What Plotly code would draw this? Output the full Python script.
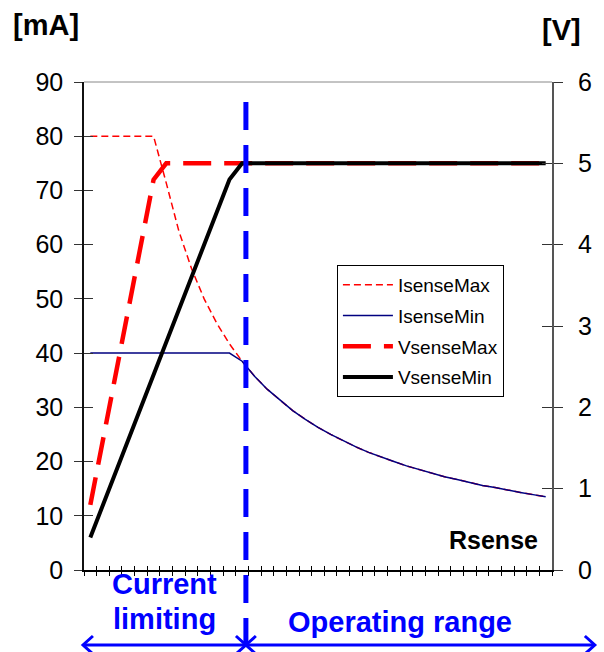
import plotly.graph_objects as go

# ---------------- data ----------------
rsense_ohm = [10, 20, 30, 40, 50, 60, 70, 80, 90, 100, 110, 120, 130, 140, 150, 160, 170, 180, 190,
              200, 210, 220, 230, 240, 250, 260, 270, 280, 290, 300, 310, 320, 330, 340, 350, 360, 370]
isense_max = [80, 80, 80, 80, 80, 80, 71.4, 62.5, 55.6, 50.0, 45.5, 41.7, 38.5, 35.7, 33.3, 31.3, 29.4,
              27.8, 26.3, 25.0, 23.8, 22.7, 21.7, 20.8, 20.0, 19.2, 18.5, 17.9, 17.2, 16.7, 16.1, 15.6,
              15.2, 14.7, 14.3, 13.9, 13.5]
isense_min = [40, 40, 40, 40, 40, 40, 40, 40, 40, 40, 40, 40, 38.5, 35.7, 33.3, 31.3, 29.4,
              27.8, 26.3, 25.0, 23.8, 22.7, 21.7, 20.8, 20.0, 19.2, 18.5, 17.9, 17.2, 16.7, 16.1, 15.6,
              15.2, 14.7, 14.3, 13.9, 13.5]
vsense_max = [0.8, 1.6, 2.4, 3.2, 4.0, 4.8, 5, 5, 5, 5, 5, 5, 5, 5, 5, 5, 5, 5, 5, 5, 5, 5, 5, 5, 5,
              5, 5, 5, 5, 5, 5, 5, 5, 5, 5, 5, 5]
vsense_min = [0.4, 0.8, 1.2, 1.6, 2.0, 2.4, 2.8, 3.2, 3.6, 4.0, 4.4, 4.8, 5, 5, 5, 5, 5, 5, 5, 5, 5,
              5, 5, 5, 5, 5, 5, 5, 5, 5, 5, 5, 5, 5, 5, 5, 5]
series_names = ["IsenseMax", "IsenseMin", "VsenseMax", "VsenseMin"]
left_ticks = [0, 10, 20, 30, 40, 50, 60, 70, 80, 90]
right_ticks = [0, 1, 2, 3, 4, 5, 6]
boundary_ohm = 133  # position of the dashed separator

# ---------------- layout geometry ----------------
W, H = 604, 652
L, R, T, B = 84, 50, 82, 82
PW, PH = W - L - R, H - T - B
x_lo, x_hi = rsense_ohm[0] - 5, rsense_ohm[-1] + 5


def px_x(p):
    return (p - L) / PW


def px_y(p):
    return (H - B - p) / PH


def data_to_px_x(v):
    return L + (v - x_lo) / (x_hi - x_lo) * PW


FONT = "Arial, Liberation Sans, sans-serif"
BLUE = "#0000FF"

fig = go.Figure()
fig.add_trace(go.Scatter(x=rsense_ohm, y=isense_max, name=series_names[0], mode="lines",
                         line=dict(color="#FF0000", width=1.5, dash="7px,4px"),
                         legendgroup="a", yaxis="y"))
fig.add_trace(go.Scatter(x=rsense_ohm, y=isense_min, name=series_names[1], mode="lines",
                         line=dict(color="#000080", width=1.5),
                         legendgroup="b", yaxis="y"))
fig.add_trace(go.Scatter(x=rsense_ohm, y=vsense_max, name=series_names[2], mode="lines",
                         line=dict(color="#FF0000", width=4.5, dash="28px,13px"),
                         legendgroup="c", yaxis="y2"))
fig.add_trace(go.Scatter(x=rsense_ohm, y=vsense_min, name=series_names[3], mode="lines",
                         line=dict(color="#000000", width=4),
                         legendgroup="d", yaxis="y2"))
# invisible helpers so the overlay (inner-tick) axes render
fig.add_trace(go.Scatter(x=[], y=[], xaxis="x2", yaxis="y3", showlegend=False, hoverinfo="skip"))
fig.add_trace(go.Scatter(x=[], y=[], xaxis="x", yaxis="y4", showlegend=False, hoverinfo="skip"))

tickfont = dict(family=FONT, size=25, color="#000000")
common_x = dict(range=[x_lo, x_hi], tickmode="linear", tick0=x_lo, dtick=10,
                showgrid=False, zeroline=False, showticklabels=False,
                ticklen=4, tickwidth=1.2, tickcolor="#000000")
fig.update_layout(
    width=W, height=H, autosize=False,
    margin=dict(l=L, r=R, t=T, b=B, pad=0),
    paper_bgcolor="white", plot_bgcolor="white",
    showlegend=True,
    legend=dict(x=px_x(338), y=px_y(265), xanchor="left", yanchor="top",
                bordercolor="#000000", borderwidth=1, bgcolor="white",
                font=dict(family=FONT, size=19, color="#000000"),
                tracegroupgap=3, itemwidth=50),
    xaxis=dict(**common_x, ticks="outside", showline=True, linecolor="#000000", linewidth=1.5),
    xaxis2=dict(**common_x, ticks="inside", overlaying="x", anchor="y", side="bottom", showline=False),
    yaxis=dict(range=[0, 90], tickvals=left_ticks, ticks="outside", ticklen=8, tickwidth=1.2,
               tickcolor="#333333", showline=True, linecolor="#111111", linewidth=1.5,
               showgrid=False, zeroline=False, tickfont=tickfont, ticklabelstandoff=6),
    yaxis3=dict(range=[0, 90], tickvals=left_ticks, ticks="inside", ticklen=9, tickwidth=1.2,
                tickcolor="#333333", overlaying="y", side="left", showticklabels=False,
                showgrid=False, zeroline=False, showline=False),
    yaxis2=dict(range=[0, 6], tickvals=right_ticks, ticks="outside", ticklen=9, tickwidth=1.2,
                tickcolor="#333333", overlaying="y", side="right", showline=True,
                linecolor="#555555", linewidth=2, showgrid=False, zeroline=False,
                tickfont=tickfont, ticklabelstandoff=10),
    yaxis4=dict(range=[0, 6], tickvals=right_ticks, ticks="inside", ticklen=10, tickwidth=1.2,
                tickcolor="#333333", overlaying="y", side="right", showticklabels=False,
                showgrid=False, zeroline=False, showline=False),
)

# top border line of plot area
fig.add_shape(type="line", xref="paper", yref="paper", x0=0, x1=1, y0=1, y1=1,
              line=dict(color="#888888", width=1))

# vertical blue dashed separator
bx = px_x(data_to_px_x(boundary_ohm))
fig.add_shape(type="line", xref="paper", yref="paper", x0=bx, x1=bx, y0=px_y(102), y1=px_y(652),
              line=dict(color=BLUE, width=5, dash="28px,15px"), layer="above")

# arrows under the axis
ay = px_y(645)
bpx = data_to_px_x(boundary_ohm)
fig.add_shape(type="line", xref="paper", yref="paper", x0=px_x(83), x1=px_x(597), y0=ay, y1=ay,
              line=dict(color=BLUE, width=3))


def chevron(tip_px, direction):
    d = 10 * direction
    p = (f"M {px_x(tip_px - d)},{px_y(645 - 9)} L {px_x(tip_px)},{ay} "
         f"L {px_x(tip_px - d)},{px_y(645 + 9)}")
    fig.add_shape(type="path", xref="paper", yref="paper", path=p, line=dict(color=BLUE, width=3))


chevron(83, -1)
chevron(bpx, 1)
chevron(bpx, -1)
chevron(597, 1)

# texts
fig.add_annotation(text="<b>[mA]</b>", xref="paper", yref="paper", x=px_x(46), y=px_y(25),
                   showarrow=False, xanchor="center", yanchor="middle",
                   font=dict(family=FONT, size=29, color="#000000"))
fig.add_annotation(text="<b>[V]</b>", xref="paper", yref="paper", x=px_x(564), y=px_y(30),
                   showarrow=False, xanchor="center", yanchor="middle",
                   font=dict(family=FONT, size=29, color="#000000"))
fig.add_annotation(text="<b>Rsense</b>", xref="paper", yref="paper", x=px_x(542), y=px_y(540),
                   showarrow=False, xanchor="right", yanchor="middle",
                   font=dict(family=FONT, size=25, color="#000000"))
fig.add_annotation(text="<b>Current</b>", xref="paper", yref="paper",
                   x=px_x(165), y=px_y(584), showarrow=False, xanchor="center", yanchor="middle",
                   font=dict(family=FONT, size=29, color=BLUE))
fig.add_annotation(text="<b>limiting</b>", xref="paper", yref="paper",
                   x=px_x(165), y=px_y(619), showarrow=False, xanchor="center", yanchor="middle",
                   font=dict(family=FONT, size=29, color=BLUE))
fig.add_annotation(text="<b>Operating range</b>", xref="paper", yref="paper",
                   x=px_x(401), y=px_y(622), showarrow=False, xanchor="center", yanchor="middle",
                   font=dict(family=FONT, size=29, color=BLUE))

fig.write_html("out.html", config={"displayModeBar": False},
               post_script="document.body.style.margin='0';document.body.style.overflow='hidden';")
